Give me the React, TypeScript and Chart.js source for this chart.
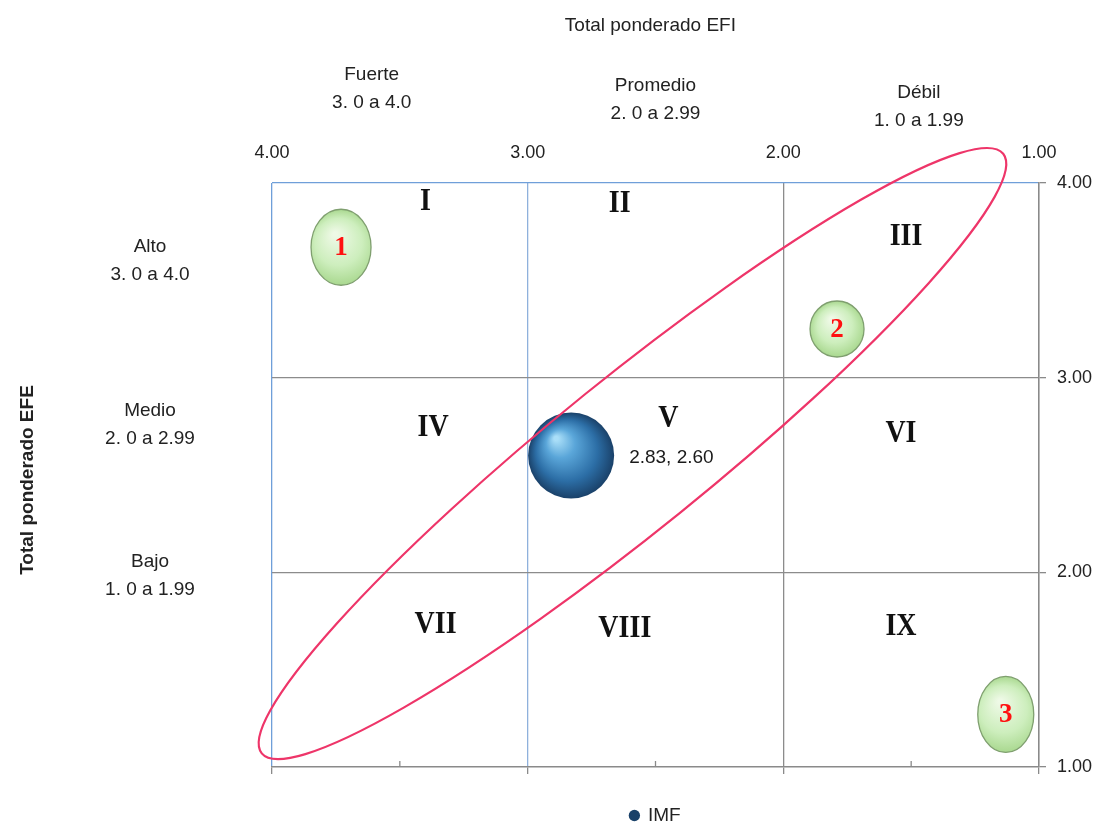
import { useEffect, useRef } from "react";
import { Chart, registerables } from "chart.js";

Chart.register(...registerables);

// IMF position in the internal–external (IE) matrix
const seriesLabel = "IMF";
const efiScores = [2.83]; // Total ponderado EFI (x)
const efeScores = [2.6]; // Total ponderado EFE (y)
const bubbleRadii = [43];

const axisMin = 1;
const axisMax = 4;
const axisStep = 1;
const minorTickValues = [3.5, 2.5, 1.5];

const xTitle = "Total ponderado EFI";
const yTitle = "Total ponderado EFE";
const efiBandNames = ["Fuerte", "Promedio", "Débil"];
const efiBandRanges = ["3. 0 a 4.0", "2. 0 a 2.99", "1. 0 a 1.99"];
const efeBandNames = ["Alto", "Medio", "Bajo"];
const efeBandRanges = ["3. 0 a 4.0", "2. 0 a 2.99", "1. 0 a 1.99"];

const cellNames = ["I", "II", "III", "IV", "V", "VI", "VII", "VIII", "IX"];

// numbered reference points
const markerNames = ["1", "2", "3"];
const markerEfi = [3.73, 1.79, 1.13];
const markerEfe = [3.67, 3.25, 1.27];

// ends of the long axis of the diagonal ellipse (cells III, V, VII)
const diagonalEfi = [4.04, 1.14];
const diagonalEfe = [1.07, 4.15];

// ---- layout of the annotations (value-space anchors, pixel sizes) ----
const cellAnchorEfi = [3.4, 2.64, 1.52, 3.37, 2.45, 1.54, 3.36, 2.62, 1.54];
const cellAnchorEfe = [3.9, 3.89, 3.72, 2.74, 2.79, 2.71, 1.73, 1.71, 1.72];
const efiHeaderAnchor = [3.61, 2.5, 1.47];
const efiHeaderOffset = [-108, -97, -90]; // px above plot top
const efeLabelAnchor = [3.6, 2.76, 1.98];
const markerRadiusX = [30, 27, 28];
const markerRadiusY = [38, 28, 38];
const diagonalMinorRadius = 76;

const SANS = "'Liberation Sans', Arial, sans-serif";
const SERIF = "'Liberation Serif', 'Times New Roman', serif";
const fmt = (v: number) => Number(v).toFixed(2);

function text(
  ctx: CanvasRenderingContext2D,
  s: string,
  x: number,
  y: number,
  font: string,
  color: string,
  align: CanvasTextAlign = "center",
  sy = 1
) {
  ctx.save();
  ctx.translate(x, y);
  ctx.scale(1, sy);
  ctx.font = font;
  ctx.fillStyle = color;
  ctx.textAlign = align;
  ctx.textBaseline = "middle";
  ctx.fillText(s, 0, 0);
  ctx.restore();
}

const matrixDecor = {
  id: "matrixDecor",
  beforeDatasetsDraw(chart: any) {
    const { ctx, chartArea } = chart;
    const xs = chart.scales.x;
    const ys = chart.scales.y;

    // numbered green ovals
    markerNames.forEach((name, i) => {
      const cx = xs.getPixelForValue(markerEfi[i]);
      const cy = ys.getPixelForValue(markerEfe[i]);
      const rx = markerRadiusX[i];
      const ry = markerRadiusY[i];
      ctx.save();
      const g = ctx.createRadialGradient(cx - rx * 0.2, cy - ry * 0.35, 2, cx, cy, Math.max(rx, ry));
      g.addColorStop(0, "#eef9e6");
      g.addColorStop(0.6, "#cdeebd");
      g.addColorStop(1, "#a9d88f");
      ctx.beginPath();
      ctx.ellipse(cx, cy, rx, ry, 0, 0, Math.PI * 2);
      ctx.fillStyle = g;
      ctx.fill();
      ctx.lineWidth = 1.3;
      ctx.strokeStyle = "#7f9f6f";
      ctx.stroke();
      ctx.restore();
      text(ctx, name, cx, cy + 1, `bold 27px ${SERIF}`, "#ff1010");
    });

    // cell numerals
    cellNames.forEach((name, i) => {
      const x = xs.getPixelForValue(cellAnchorEfi[i]);
      const y = ys.getPixelForValue(cellAnchorEfe[i]);
      text(ctx, name, x, y, `bold 28px ${SERIF}`, "#111", "center", 1.1);
    });

    // minor ticks on the bottom axis
    ctx.save();
    ctx.strokeStyle = "#8a8a8a";
    ctx.lineWidth = 1.3;
    minorTickValues.forEach((v) => {
      const x = xs.getPixelForValue(v);
      ctx.beginPath();
      ctx.moveTo(x, chartArea.bottom);
      ctx.lineTo(x, chartArea.bottom - 6);
      ctx.stroke();
    });
    ctx.restore();
  },
  afterDatasetsDraw(chart: any) {
    const { ctx, chartArea } = chart;
    const xs = chart.scales.x;
    const ys = chart.scales.y;

    // diagonal ellipse
    const x1 = xs.getPixelForValue(diagonalEfi[0]);
    const y1 = ys.getPixelForValue(diagonalEfe[0]);
    const x2 = xs.getPixelForValue(diagonalEfi[1]);
    const y2 = ys.getPixelForValue(diagonalEfe[1]);
    ctx.save();
    ctx.beginPath();
    ctx.ellipse(
      (x1 + x2) / 2,
      (y1 + y2) / 2,
      Math.hypot(x2 - x1, y2 - y1) / 2,
      diagonalMinorRadius,
      Math.atan2(y2 - y1, x2 - x1),
      0,
      Math.PI * 2
    );
    ctx.strokeStyle = "#ee3569";
    ctx.lineWidth = 2.2;
    ctx.stroke();
    ctx.restore();

    // value label of the bubble
    efiScores.forEach((v, i) => {
      const x = xs.getPixelForValue(v) + bubbleRadii[i] + 15;
      const y = ys.getPixelForValue(efeScores[i]) + 2;
      text(ctx, `${fmt(v)}, ${fmt(efeScores[i])}`, x, y, `19px ${SANS}`, "#1a1a1a", "left");
    });

    // header texts above the matrix
    const top = chartArea.top;
    text(ctx, xTitle, xs.getPixelForValue(2.52), 26, `19px ${SANS}`, "#222");
    efiBandNames.forEach((name, i) => {
      const x = xs.getPixelForValue(efiHeaderAnchor[i]);
      const y = top + efiHeaderOffset[i];
      text(ctx, name, x, y, `19px ${SANS}`, "#222");
      text(ctx, efiBandRanges[i], x, y + 28, `19px ${SANS}`, "#222");
    });

    // row labels on the left
    const lx = chartArea.left - 122;
    efeBandNames.forEach((name, i) => {
      const y = ys.getPixelForValue(efeLabelAnchor[i]);
      text(ctx, name, lx, y - 14, `19px ${SANS}`, "#222");
      text(ctx, efeBandRanges[i], lx, y + 14, `19px ${SANS}`, "#222");
    });

    // vertical axis title
    ctx.save();
    ctx.translate(chartArea.left - 244, (chartArea.top + chartArea.bottom) / 2 + 5);
    ctx.rotate(-Math.PI / 2);
    ctx.font = `bold 19px ${SANS}`;
    ctx.fillStyle = "#222";
    ctx.textAlign = "center";
    ctx.textBaseline = "middle";
    ctx.fillText(yTitle, 0, 0);
    ctx.restore();
  },
};

function sphereFill(c: any) {
  const chart = c.chart;
  if (!chart.chartArea || c.type !== "data" || !c.raw) return "#2c5f8e";
  const x = chart.scales.x.getPixelForValue(c.raw.x);
  const y = chart.scales.y.getPixelForValue(c.raw.y);
  const r = c.raw.r;
  const g = chart.ctx.createRadialGradient(x - r * 0.35, y - r * 0.4, r * 0.05, x, y, r);
  g.addColorStop(0, "#a9def8");
  g.addColorStop(0.3, "#5aa6d9");
  g.addColorStop(0.7, "#2c6ea6");
  g.addColorStop(1, "#1a4169");
  return g;
}

function xGridColor(c: any) {
  const v = c.tick ? c.tick.value : null;
  if (v === 4) return "#6f9fd9";
  if (v === 3) return "#8fb1dc";
  if (v === 2) return "#8c8c8c";
  return "rgba(0,0,0,0)";
}

function yGridColor(c: any) {
  const v = c.tick ? c.tick.value : null;
  if (v === 4) return "#6f9fd9";
  if (v === 3 || v === 2) return "#8c8c8c";
  return "rgba(0,0,0,0)";
}

export default function App() {
  const canvasRef = useRef<HTMLCanvasElement | null>(null);

  useEffect(() => {
    if (!canvasRef.current) return;
    const chart = new Chart(canvasRef.current, {
      type: "bubble",
      data: {
        datasets: [
          {
            label: seriesLabel,
            data: efiScores.map((x, i) => ({ x, y: efeScores[i], r: bubbleRadii[i] })),
            backgroundColor: sphereFill,
            borderWidth: 0,
            xAxisID: "x",
            yAxisID: "y",
          },
        ],
      },
      options: {
        animation: false,
        responsive: true,
        maintainAspectRatio: false,
        events: [],
        layout: { padding: { left: 272, right: 0, top: 133, bottom: -10 } },
        scales: {
          x: {
            type: "linear",
            position: "bottom",
            min: axisMin,
            max: axisMax,
            reverse: true,
            ticks: { display: false, stepSize: axisStep },
            grid: {
              color: xGridColor,
              lineWidth: 1.3,
              drawTicks: true,
              tickLength: 7,
              tickColor: "#8a8a8a",
            },
            border: { display: true, color: "#8a8a8a", width: 1.6 },
            afterFit: (s: any) => {
              s.height = 29;
            },
          },
          x2: {
            type: "linear",
            position: "top",
            min: axisMin,
            max: axisMax,
            reverse: true,
            ticks: {
              stepSize: axisStep,
              callback: (v: any) => fmt(v),
              font: { family: SANS, size: 18 },
              color: "#222",
              padding: 19,
              maxRotation: 0,
            },
            grid: { display: false, drawTicks: false },
            border: { display: false },
            afterFit: (s: any) => {
              s.height = 50;
            },
          },
          y: {
            type: "linear",
            position: "right",
            min: axisMin,
            max: axisMax,
            ticks: {
              stepSize: axisStep,
              callback: (v: any) => fmt(v),
              font: { family: SANS, size: 18 },
              color: "#222",
              padding: 11,
            },
            grid: {
              color: yGridColor,
              lineWidth: 1.3,
              tickLength: 7,
              tickColor: "#8a8a8a",
            },
            border: { color: "#8a8a8a", width: 1.6 },
            afterFit: (s: any) => {
              s.width = 60;
            },
          },
        },
        plugins: {
          legend: {
            position: "bottom",
            fullSize: false,
            labels: {
              usePointStyle: true,
              pointStyle: "circle",
              boxWidth: 8,
              boxHeight: 8,
              font: { family: SANS, size: 19 },
              color: "#222",
              padding: 10,
            },
          },
          tooltip: { enabled: false },
          title: { display: false },
        },
      },
      plugins: [matrixDecor],
    } as any);
    return () => chart.destroy();
  }, []);

  return (
    <div style={{ position: "absolute", left: 0, top: 0, width: 1099, height: 825, background: "#fff" }}>
      <canvas ref={canvasRef} />
    </div>
  );
}
